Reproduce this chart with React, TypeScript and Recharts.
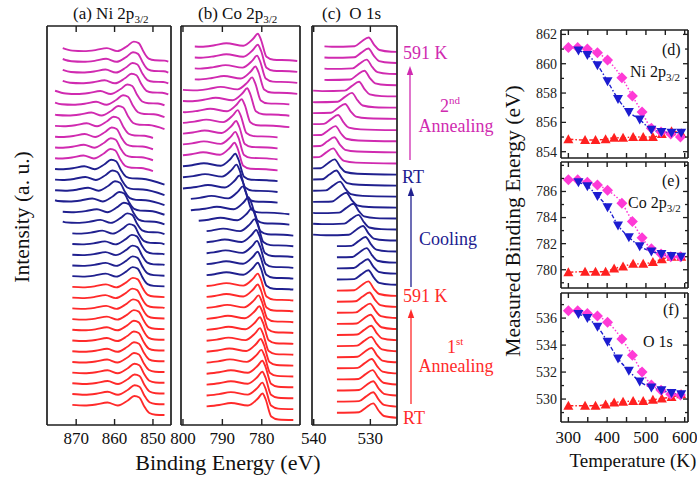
import { LineChart, Line, XAxis, YAxis } from 'recharts';

const SERIF = '"Liberation Serif", "Times New Roman", Times, serif';
const FRAME = '#1e1e1e';
const RED = '#ff2a2a';
const BLUE = '#20208f';
const MAGENTA = '#d02ab0';
const DOT_RED = '#ff2020';
const DOT_BLUE = '#1c1cd0';
const DOT_MAGENTA = '#ff3ad6';

// temperature of each scan (K), panels (d)-(f)
const T_HEAT1 = [300, 343, 370, 396, 418, 441, 467, 493, 518, 541, 566, 591];
const T_COOL = [591, 566, 540, 514, 484, 456, 428, 401, 375, 349, 326];
const T_HEAT2 = [300, 324, 349, 375, 401, 438, 465, 490, 514, 539, 564, 589];

// measured peak binding energy (eV)
const NI_HEAT1 = [854.85, 854.8, 854.8, 854.85, 854.95, 854.95, 855.0, 855.0, 855.0, 855.2, 855.4, 855.25];
const NI_COOL = [855.3, 855.3, 855.35, 855.5, 856.2, 856.7, 857.6, 858.8, 859.9, 860.6, 860.9];
const NI_HEAT2 = [861.1, 861.1, 861.0, 860.75, 860.25, 859.05, 857.8, 856.7, 855.6, 855.35, 855.2, 855.0];

const CO_HEAT1 = [779.8, 779.85, 779.85, 779.85, 780.1, 780.25, 780.45, 780.45, 780.6, 780.8, 781.0, 781.0];
const CO_COOL = [781.0, 781.05, 781.2, 781.4, 781.8, 782.5, 783.4, 784.8, 785.65, 786.4, 786.7];
const CO_HEAT2 = [786.9, 786.9, 786.7, 786.5, 786.1, 785.1, 783.7, 782.45, 781.6, 781.2, 781.0, 781.0];

const O_HEAT1 = [529.5, 529.5, 529.5, 529.6, 529.75, 529.8, 529.85, 529.85, 529.95, 530.05, 530.15, 530.35];
const O_COOL = [530.35, 530.45, 530.65, 530.85, 531.3, 532.1, 533.0, 534.25, 535.35, 536.0, 536.3];
const O_HEAT2 = [536.55, 536.55, 536.35, 536.15, 535.7, 534.45, 533.25, 532.0, 531.05, 530.65, 530.35, 530.3];

// line shapes of the spectra: energy from the main peak (eV) and height (a.u.)
const NI_DE = [20, 16, 13, 10, 7, 4.3, 1.7, 0, -1.3, -2.6, -3.9, -5.5, -8, -15];
const NI_H = [14, 10, 9.5, 10.5, 12.5, 9.5, 14.5, 19, 17.5, 8.5, 2, 0.3, 0, -7];
const CO_DE = [21, 14.4, 11, 8, 3.7, 1.2, 0, -0.8, -2.2, -4, -8, -15];
const CO_H = [14, 13, 14.5, 16.5, 14, 21, 26, 20, 3, 0, -0.5, -3];
const O_DE = [10, 6.5, 2.5, 1.3, 0, -1, -1.9, -4, -12];
const O_H = [6, 5, 5.5, 10, 14.3, 6.7, 1.7, 0, -1];

// scan windows (eV), bottom to top within each group
const NI_WIN_HEAT1 = [871, 847];
const NI_HI_COOL = [871, 871, 871, 871, 871, 873.5, 873.5, 875.5, 875.5, 875.5, 875.5];
const NI_LO_COOL = [847, 847, 847, 847, 847, 847, 847, 847, 847, 847, 847];
const NI_HI_HEAT2 = [875.5, 875.5, 875.5, 875.5, 875.5, 875.5, 875.5, 873.5, 873.5, 873.5, 873.5];
const NI_LO_HEAT2 = [850, 850, 850, 850, 847, 847, 847, 846, 846, 846, 846];

const CO_WIN_HEAT1 = [794, 772];
const CO_HI_COOL = [794, 794, 794, 794, 794, 796, 798, 798, 800, 800, 800];
const CO_LO_COOL = [772, 772, 772, 772, 772, 772, 773, 773, 776, 776, 776];
const CO_HI_HEAT2 = [800, 800, 800, 800, 800, 800, 800, 797, 797, 797, 797];
const CO_LO_HEAT2 = [776, 776, 776, 776, 773, 773, 773, 771, 771, 771, 771];

const O_WIN_HEAT1 = [535.9, 525.4];
const O_HI_COOL = [535.9, 535.9, 535.9, 535.9, 540.1, 540.1, 540.1, 540.1, 540.1, 540.1, 540.1];
const O_LO_COOL = [525.4, 525.4, 525.4, 525.4, 525.4, 525.4, 525.4, 525.4, 525.4, 525.4, 525.4];
const O_HI_HEAT2 = [540.1, 540.1, 540.1, 540.1, 540.1, 540.1, 540.1, 538.1, 538.1, 538.1, 538.1];
const O_LO_HEAT2 = [525.4, 525.4, 525.4, 525.4, 525.4, 525.4, 525.4, 525.4, 525.4, 525.4, 525.4];

type Pt = { x: number; y: number };
type Curve = { id: string; color: string; pts: Pt[] };

// put the line shape at a peak position, cut to the scan window
function place(de: number[], h: number[], peak: number, hi: number, lo: number, level: number): Pt[] {
  const pts = de.map((d, k) => ({ x: peak + d, y: level + h[k] })).sort((a, b) => a.x - b.x);
  const at = (e: number) => {
    if (e <= pts[0].x) return pts[0].y;
    for (let k = 1; k < pts.length; k++) {
      if (e <= pts[k].x) {
        const f = (e - pts[k - 1].x) / (pts[k].x - pts[k - 1].x);
        return pts[k - 1].y + f * (pts[k].y - pts[k - 1].y);
      }
    }
    return pts[pts.length - 1].y;
  };
  const inner = pts.filter((p) => p.x > lo + 0.3 && p.x < hi - 0.3);
  return [{ x: lo, y: at(lo) }, ...inner, { x: hi, y: at(hi) }];
}

function stack(
  de: number[], h: number[],
  heat1: number[], cool: number[], heat2: number[],
  win1: number[], hiC: number[], loC: number[], hiH: number[], loH: number[],
  base: number, step: number,
): Curve[] {
  const out: Curve[] = [];
  heat1.forEach((pk, i) => {
    out.push({ id: `r${i}`, color: RED, pts: place(de, h, pk, win1[0], win1[1], base + i * step) });
  });
  cool.forEach((pk, j) => {
    const n = heat1.length + j;
    out.push({ id: `b${j}`, color: BLUE, pts: place(de, h, pk, hiC[j], loC[j], base + n * step) });
  });
  heat2.slice(1).forEach((pk, k) => {
    const n = heat1.length + cool.length + k;
    out.push({ id: `m${k}`, color: MAGENTA, pts: place(de, h, pk, hiH[k], loH[k], base + n * step) });
  });
  return out;
}

const axisStyle = { stroke: FRAME, strokeWidth: 1.7 };

const bottomTick = (len: number, labels: number[], dy: number, fs: number) => (p: any) => {
  const v = p.payload.value;
  return (
    <g>
      <line x1={p.x} y1={p.y} x2={p.x} y2={p.y - len} stroke={FRAME} strokeWidth={1.4} />
      {labels.includes(v) && (
        <text x={p.x} y={p.y + dy} textAnchor="middle" fontSize={fs} fontFamily={SERIF} fill="#111">{v}</text>
      )}
    </g>
  );
};

const topTick = (len: number) => (p: any) => (
  <line x1={p.x} y1={p.y} x2={p.x} y2={p.y + len} stroke={FRAME} strokeWidth={1.4} />
);

const leftTick = (majors: number[], fs: number) => (p: any) => {
  const v = p.payload.value;
  const major = majors.includes(v);
  return (
    <g>
      <line x1={p.x} y1={p.y} x2={p.x + (major ? 5 : 3)} y2={p.y} stroke={FRAME} strokeWidth={1.3} />
      {major && (
        <text x={p.x - 4} y={p.y} dy="0.35em" textAnchor="end" fontSize={fs} fontFamily={SERIF} fill="#222">{v}</text>
      )}
    </g>
  );
};

const rightTick = (majors: number[]) => (p: any) => {
  const major = majors.includes(p.payload.value);
  return <line x1={p.x} y1={p.y} x2={p.x - (major ? 5 : 3)} y2={p.y} stroke={FRAME} strokeWidth={1.3} />;
};

// the thin axes (1px) sit inside the margins, so margins are 1px smaller
function SpectraPanel({ left, top, w, h, domain, ticks, curves }: {
  left: number; top: number; w: number; h: number;
  domain: [number, number]; ticks: number[]; curves: Curve[];
}) {
  const m = { top: 6, right: 24, bottom: 32, left: 24 };
  return (
    <div style={{ position: 'absolute', left: left - m.left, top: top - m.top }}>
      <LineChart width={w + m.left + m.right} height={h + m.top + m.bottom}
        margin={{ top: m.top - 1, right: m.right - 1, bottom: m.bottom - 1, left: m.left - 1 }}>
        <XAxis type="number" dataKey="x" domain={domain} reversed allowDataOverflow ticks={ticks} interval={0}
          height={1} tickSize={0} tickMargin={0} tickLine={false} axisLine={axisStyle}
          tick={bottomTick(6, ticks, 19, 17)} />
        <XAxis xAxisId="t" orientation="top" type="number" dataKey="x" domain={domain} reversed allowDataOverflow
          ticks={ticks} interval={0} height={1} tickSize={0} tickMargin={0} tickLine={false} axisLine={axisStyle}
          tick={topTick(6)} />
        <YAxis type="number" domain={[0, h]} allowDataOverflow width={1} tick={false} tickLine={false} axisLine={axisStyle} />
        <YAxis yAxisId="r" orientation="right" type="number" domain={[0, h]} allowDataOverflow width={1} tick={false}
          tickLine={false} axisLine={axisStyle} />
        {curves.map((c) => (
          <Line key={c.id} data={c.pts} dataKey="y" type="monotone" stroke={c.color} strokeWidth={1.9}
            dot={false} isAnimationActive={false} />
        ))}
      </LineChart>
    </div>
  );
}

const diamondDot = (p: any) => (
  <path key={`d${p.index}`} d={`M${p.cx},${p.cy - 5.5}L${p.cx + 5.5},${p.cy}L${p.cx},${p.cy + 5.5}L${p.cx - 5.5},${p.cy}Z`}
    fill={DOT_MAGENTA} />
);
const upDot = (p: any) => (
  <path key={`u${p.index}`} d={`M${p.cx},${p.cy - 5}L${p.cx + 5},${p.cy + 4}L${p.cx - 5},${p.cy + 4}Z`} fill={DOT_RED} />
);
const downDot = (p: any) => (
  <path key={`w${p.index}`} d={`M${p.cx},${p.cy + 5}L${p.cx + 5},${p.cy - 4}L${p.cx - 5},${p.cy - 4}Z`} fill={DOT_BLUE} />
);

const T_TICKS = [300, 350, 400, 450, 500, 550, 600];
const T_LABELS = [300, 400, 500, 600];

function pairs(ts: number[], vs: number[]) {
  return ts.map((t, i) => ({ t, v: vs[i] })).sort((a, b) => a.t - b.t);
}

function TempPanel({ top, h, domain, ticks, majors, heat1, cool, heat2, showX }: {
  top: number; h: number; domain: [number, number]; ticks: number[]; majors: number[];
  heat1: number[]; cool: number[]; heat2: number[]; showX: boolean;
}) {
  const m = { top: 6, right: 10, bottom: showX ? 30 : 6, left: 52 };
  const left = 561;
  const w = 127;
  return (
    <div style={{ position: 'absolute', left: left - m.left, top: top - m.top }}>
      <LineChart width={w + m.left + m.right} height={h + m.top + m.bottom}
        margin={{ top: m.top - 1, right: m.right - 1, bottom: m.bottom - 1, left: m.left - 1 }}>
        <XAxis type="number" dataKey="t" domain={[281, 608.5]} allowDataOverflow ticks={T_TICKS} interval={0}
          height={1} tickSize={0} tickMargin={0} tickLine={false} axisLine={axisStyle}
          tick={bottomTick(5, showX ? T_LABELS : [], 21, 17)} />
        <XAxis xAxisId="t" orientation="top" type="number" dataKey="t" domain={[281, 608.5]} allowDataOverflow
          ticks={T_TICKS} interval={0} height={1} tickSize={0} tickMargin={0} tickLine={false} axisLine={axisStyle}
          tick={topTick(5)} />
        <YAxis type="number" domain={domain} allowDataOverflow ticks={ticks} interval={0} width={1} tickSize={0}
          tickMargin={0} tickLine={false} axisLine={axisStyle} tick={leftTick(majors, 14)} />
        <YAxis yAxisId="r" orientation="right" type="number" domain={domain} allowDataOverflow ticks={ticks} interval={0}
          width={1} tickSize={0} tickMargin={0} tickLine={false} axisLine={axisStyle} tick={rightTick(majors)} />
        <Line data={pairs(T_HEAT1, heat1)} dataKey="v" type="monotone" stroke={DOT_RED} strokeWidth={1.4}
          strokeDasharray="5 2 1.5 2" dot={upDot} isAnimationActive={false} />
        <Line data={pairs(T_HEAT2, heat2)} dataKey="v" type="monotone" stroke={DOT_MAGENTA} strokeWidth={1.5}
          strokeDasharray="1.5 2" dot={diamondDot} isAnimationActive={false} />
        <Line data={pairs(T_COOL, cool)} dataKey="v" type="monotone" stroke={DOT_BLUE} strokeWidth={1.4}
          strokeDasharray="4 2 1.5 2" dot={downDot} isAnimationActive={false} />
      </LineChart>
    </div>
  );
}

const NI_CURVES = stack(NI_DE, NI_H, NI_HEAT1, NI_COOL, NI_HEAT2, NI_WIN_HEAT1, NI_HI_COOL, NI_LO_COOL, NI_HI_HEAT2, NI_LO_HEAT2, 10, 10.74);
const CO_CURVES = stack(CO_DE, CO_H, CO_HEAT1, CO_COOL, CO_HEAT2, CO_WIN_HEAT1, CO_HI_COOL, CO_LO_COOL, CO_HI_HEAT2, CO_LO_HEAT2, 5.5, 10.9);
const O_CURVES = stack(O_DE, O_H, O_HEAT1, O_COOL, O_HEAT2, O_WIN_HEAT1, O_HI_COOL, O_LO_COOL, O_HI_HEAT2, O_LO_HEAT2, 7.3, 11.09);

function Arrow({ x, y1, y2, color }: { x: number; y1: number; y2: number; color: string }) {
  return (
    <g>
      <line x1={x} y1={y1} x2={x} y2={y2 + 6} stroke={color} strokeWidth={1.3} />
      <path d={`M${x},${y2}L${x + 3.2},${y2 + 9}L${x - 3.2},${y2 + 9}Z`} fill={color} />
    </g>
  );
}

const subFs = 11;

export default function App() {
  return (
    <div style={{ position: 'absolute', left: 0, top: 0, width: 697, height: 478, background: '#fff', fontFamily: SERIF }}>
      <SpectraPanel left={47} top={26} w={124} h={399} domain={[845.3, 877.6]} ticks={[850, 860, 870]} curves={NI_CURVES} />
      <SpectraPanel left={181} top={26} w={119} h={399} domain={[770.3, 800.5]} ticks={[780, 790, 800]} curves={CO_CURVES} />
      <SpectraPanel left={312} top={26} w={85} h={399} domain={[525.3, 540.3]} ticks={[530, 540]} curves={O_CURVES} />

      <TempPanel top={30} h={128} domain={[853.57, 862.3]} ticks={[854, 855, 856, 857, 858, 859, 860, 861, 862]}
        majors={[854, 856, 858, 860, 862]} heat1={NI_HEAT1} cool={NI_COOL} heat2={NI_HEAT2} showX={false} />
      <TempPanel top={162} h={126} domain={[778.6, 788.26]} ticks={[779, 780, 781, 782, 783, 784, 785, 786, 787, 788]}
        majors={[780, 782, 784, 786]} heat1={CO_HEAT1} cool={CO_COOL} heat2={CO_HEAT2} showX={false} />
      <TempPanel top={293} h={129} domain={[528.3, 537.86]} ticks={[529, 530, 531, 532, 533, 534, 535, 536, 537]}
        majors={[530, 532, 534, 536]} heat1={O_HEAT1} cool={O_COOL} heat2={O_HEAT2} showX={true} />

      <svg width={697} height={478} style={{ position: 'absolute', left: 0, top: 0, pointerEvents: 'none' }}
        fontFamily={SERIF} fill="#111">
        <text x={73} y={19} fontSize={17}>(a) Ni 2p<tspan fontSize={subFs} dy={4}>3/2</tspan></text>
        <text x={198} y={19} fontSize={17}>(b) Co 2p<tspan fontSize={subFs} dy={4}>3/2</tspan></text>
        <text x={322} y={19} fontSize={17}>(c)&#160; O 1s</text>

        <text x={228} y={470} fontSize={22} textAnchor="middle">Binding Energy (eV)</text>
        <text x={29} y={217} fontSize={21.5} textAnchor="middle" transform="rotate(-90 29 217)">Intensity (a. u.)</text>
        <text x={520} y={221} fontSize={21.5} textAnchor="middle" transform="rotate(-90 520 221)">Measured Binding Energy (eV)</text>
        <text x={633} y={467} fontSize={19} textAnchor="middle">Temperature (K)</text>

        <text x={662} y={55} fontSize={16}>(d)</text>
        <text x={630} y={77} fontSize={16}>Ni 2p<tspan fontSize={subFs} dy={4}>3/2</tspan></text>
        <text x={662} y={186} fontSize={16}>(e)</text>
        <text x={628} y={208} fontSize={16}>Co 2p<tspan fontSize={subFs} dy={4}>3/2</tspan></text>
        <text x={663} y={315} fontSize={16}>(f)</text>
        <text x={643} y={347} fontSize={16}>O 1s</text>

        <g fill={MAGENTA}>
          <text x={403} y={59} fontSize={18}>591 K</text>
          <text x={440} y={112} fontSize={18}>2<tspan fontSize={11} dy={-8}>nd</tspan></text>
          <text x={456} y={132} fontSize={18} textAnchor="middle">Annealing</text>
        </g>
        <Arrow x={410} y1={160} y2={66} color={MAGENTA} />
        <g fill={BLUE}>
          <text x={402} y={183} fontSize={18}>RT</text>
          <text x={448} y={245} fontSize={18} textAnchor="middle">Cooling</text>
        </g>
        <Arrow x={411} y1={287} y2={187} color={BLUE} />
        <g fill={RED}>
          <text x={403} y={302} fontSize={18}>591 K</text>
          <text x={447} y={353} fontSize={18}>1<tspan fontSize={11} dy={-8}>st</tspan></text>
          <text x={456} y={372} fontSize={18} textAnchor="middle">Annealing</text>
          <text x={403} y={424} fontSize={18}>RT</text>
        </g>
        <Arrow x={411} y1={404} y2={309} color={RED} />
      </svg>
    </div>
  );
}
